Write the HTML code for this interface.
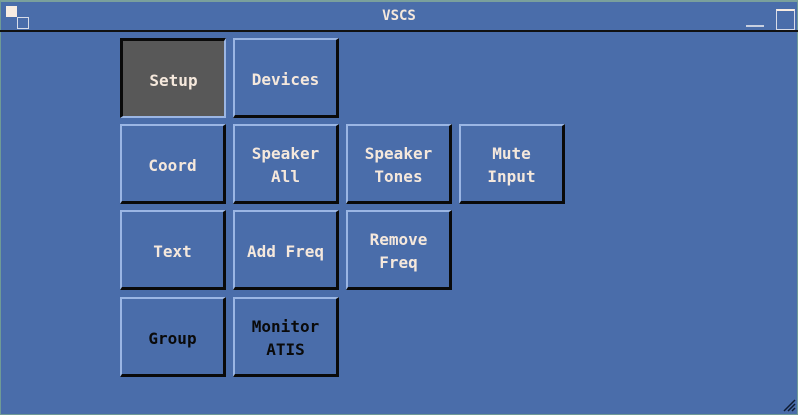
<!DOCTYPE html>
<html><head><style>
body{margin:0;width:798px;height:414px;background:#4a6daa;overflow:hidden;position:relative;font-family:"DejaVu Sans Mono","Liberation Mono",monospace;}
.frame{position:absolute;left:0;top:0;width:796px;height:412px;border:1px solid #6f9a96;border-top:2px solid #7aa09c;}
.title{position:absolute;left:0;top:0;width:798px;height:32px;border-bottom:2px solid #111;box-sizing:border-box;}
.title span{position:absolute;left:0;width:798px;top:8px;text-align:center;color:#f5e8dc;font-size:14px;font-weight:bold;}
.b{position:absolute;width:106px;height:80px;box-sizing:border-box;padding-top:3px;border-top:2px solid #9bb6e4;border-left:2px solid #9bb6e4;border-right:3px solid #0a0a0a;border-bottom:3px solid #0a0a0a;display:flex;align-items:center;justify-content:center;text-align:center;color:#f5e8dc;font-size:16px;line-height:23px;font-weight:bold;}
.k{color:#0a0a0a;}
.p{background:#585858;border-top:3px solid #0a0a0a;border-left:3px solid #0a0a0a;border-right:2px solid #9bb6e4;border-bottom:2px solid #9bb6e4;}
</style></head><body>
<div class="frame"></div>
<div class="title"><span>VSCS</span></div>
<div style="position:absolute;left:6px;top:6px;width:11px;height:11px;background:#f8ece2"></div>
<div style="position:absolute;left:17px;top:17px;width:10px;height:10px;border:1px solid #d8dce8;"></div>
<div style="position:absolute;left:746px;top:25px;width:18px;height:2px;background:#c8d0e0"></div>
<div style="position:absolute;left:776px;top:9px;width:17px;height:18px;border:1px solid #d8dce8;border-top:2px solid #f8ece2"></div>
<svg style="position:absolute;left:782px;top:398px" width="14" height="14"><path d="M2 13L13 2M6 13L13 6M10 13L13 10" stroke="#0e1a30" stroke-width="1.5"/></svg>

<div class="b p" style="left:120px;top:38px">Setup</div>
<div class="b" style="left:233px;top:38px">Devices</div>
<div class="b" style="left:120px;top:124px">Coord</div>
<div class="b" style="left:233px;top:124px">Speaker<br>All</div>
<div class="b" style="left:346px;top:124px">Speaker<br>Tones</div>
<div class="b" style="left:459px;top:124px">Mute<br>Input</div>
<div class="b" style="left:120px;top:210px">Text</div>
<div class="b" style="left:233px;top:210px">Add Freq</div>
<div class="b" style="left:346px;top:210px">Remove<br>Freq</div>
<div class="b k" style="left:120px;top:297px">Group</div>
<div class="b k" style="left:233px;top:297px">Monitor<br>ATIS</div>
</body></html>
